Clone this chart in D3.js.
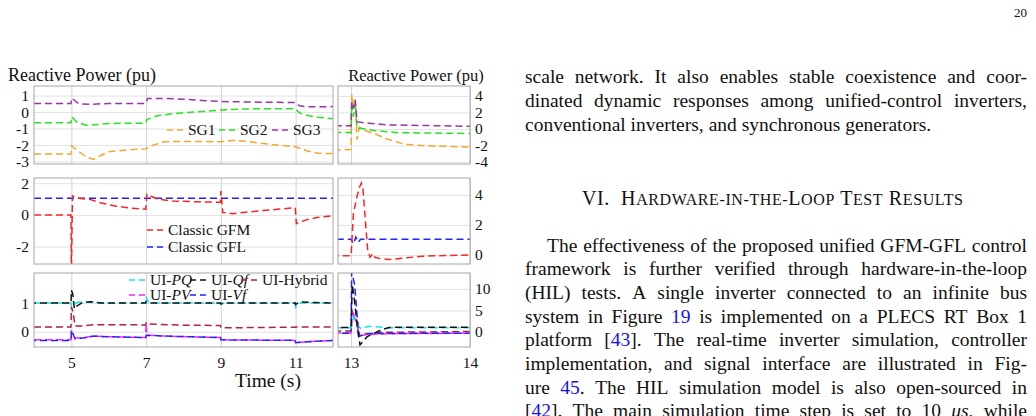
<!DOCTYPE html>
<html lang="en">
<head>
<meta charset="UTF-8">
<title>Reactive Power</title>
<script src="https://cdn.jsdelivr.net/npm/d3@7"></script>
<style>
  body { margin: 0; background: #fff; }
  svg { display: block; font-family: "Liberation Serif", "Times New Roman", serif; }
  .grid line { stroke: #e2e2e2; }
  .grid.v line { stroke: #d2d2d2; }
  .grid path { display: none; }
  .lbl path, .lbl line { display: none; }
  .lbl text { font-size: 15.5px; fill: #111; font-family: "Liberation Serif", serif; }
  .frame { fill: none; stroke: #a6a6a6; }
  .page { font-size: 19.5px; fill: #111; }
</style>
</head>
<body>
<svg width="1036" height="416"></svg>
<script>
// ---- data (time in s, reactive power in pu) ----
const sg1 = [[4,-2.55],[4.99,-2.55],[5.01,-2.05],[5.2,-2.4],[5.4,-2.72],[5.6,-2.87],[5.8,-2.62],[6,-2.4],[6.5,-2.3],[6.99,-2.22],[7.2,-2.0],[7.5,-1.8],[8,-1.78],[8.99,-1.8],[9.3,-1.72],[9.6,-1.75],[10,-1.88],[10.5,-2.0],[10.99,-2.1],[11.3,-2.35],[11.6,-2.5],[12,-2.52],
  [13,-2.5],[13.005,4.2],[13.02,2.6],[13.035,3.6],[13.05,-1.3],[13.07,0.2],[13.1,-0.1],[13.2,-0.6],[13.3,-1.2],[13.45,-1.85],[13.6,-2.0],[14,-2.2]];
const sg2 = [[4,-0.65],[4.99,-0.65],[5.01,-0.28],[5.15,-0.62],[5.4,-0.8],[5.7,-0.76],[6,-0.69],[6.99,-0.67],[7.02,-0.45],[7.3,-0.22],[7.7,-0.1],[8.5,0.04],[9,0.12],[9.5,0.18],[10,0.2],[10.99,0.2],[11.1,-0.05],[11.3,-0.2],[11.6,-0.32],[12,-0.4],
  [13,-0.43],[13.005,3.0],[13.02,1.5],[13.035,3.2],[13.05,0.1],[13.08,0.1],[13.2,-0.2],[13.4,-0.45],[14,-0.55]];
const sg3 = [[4,0.52],[4.99,0.52],[5.01,0.85],[5.2,0.5],[5.5,0.47],[6,0.52],[6.99,0.52],[7.04,0.82],[7.5,0.83],[8,0.78],[8.5,0.7],[9,0.64],[10,0.6],[10.99,0.58],[11.1,0.38],[11.3,0.32],[12,0.33],
  [13,0.38],[13.005,3.3],[13.02,2.5],[13.035,3.5],[13.05,0.9],[13.08,0.8],[13.15,0.7],[13.3,0.5],[14,0.32]];

const gfm = [[4,0],[4.99,0],[5.0,-3.6],[5.03,1.2],[5.2,1.05],[5.5,0.98],[5.8,0.75],[6.2,0.55],[6.6,0.42],[6.99,0.36],[7.02,1.3],[7.3,1.0],[7.7,0.88],[8.5,0.82],[8.99,0.8],[9.0,1.5],[9.05,0.15],[9.3,0.08],[9.6,0.15],[10,0.25],[10.5,0.35],[10.99,0.45],[11.02,-0.55],[11.3,-0.3],[11.6,-0.15],[12,-0.05],
  [13,-0.05],[13.02,2.8],[13.05,3.9],[13.07,4.5],[13.087,4.8],[13.1,4.4],[13.12,2.3],[13.14,0.3],[13.16,-0.15],[13.185,0.1],[13.2,-0.15],[13.25,-0.25],[13.32,-0.3],[13.45,-0.2],[13.6,-0.08],[14,0]];
const gfl = [[4,1.05],[13,1.05],[13.02,0.75],[13.04,1.2],[13.06,0.85],[13.08,1.05],[14,1.05]];

const uiPQ = [[4,1],[4.99,1],[5.0,0.9],[5.05,0.95],[5.15,1.02],[5.3,1.05],[5.6,1.02],[6,1.0],[6.99,1.0],[7.0,1.22],[7.05,1.05],[7.2,1.0],[8.99,1.0],[9.0,0.95],[9.05,1.0],[10.99,1.0],[11.0,0.85],[11.1,1.0],[12,1.0],
  [13,1.0],[13.02,3.5],[13.05,1.8],[13.08,0.8],[13.15,1.3],[13.3,1.0],[14,1.0]];
const uiQf = [[4,1],[4.99,1],[5.0,1.45],[5.04,1.3],[5.08,0.8],[5.15,0.9],[5.3,1.02],[5.5,1.05],[5.8,1.0],[6.99,1.0],[7.0,1.06],[7.1,1.0],[8.99,1.0],[9.0,0.97],[9.1,1.0],[10.99,1.0],[11.0,0.95],[11.1,1.04],[11.5,1.02],[12,1.0],
  [13,1.05],[13.01,11],[13.03,7],[13.06,-0.5],[13.075,-3],[13.135,-1.1],[13.25,0.45],[13.32,1.05],[13.5,1.1],[14,1.1]];
const uiHybrid = [[4,0.17],[4.99,0.17],[5.0,0.87],[5.05,0.65],[5.1,0.2],[5.3,0.2],[5.6,0.25],[6.99,0.24],[7.0,0.33],[7.1,0.27],[8,0.23],[8.99,0.22],[9.0,0.14],[9.2,0.14],[10,0.15],[10.99,0.16],[11.0,0.17],[12,0.17],
  [13,0.2],[13.01,4.7],[13.04,3.0],[13.07,-0.8],[13.12,-0.5],[13.25,-0.1],[14,0.1]];
const uiPV = [[4,-0.28],[4.99,-0.28],[5.0,0.05],[5.05,-0.2],[5.2,-0.22],[5.6,-0.15],[6,-0.17],[6.99,-0.2],[7.0,0.3],[7.02,-0.12],[7.5,-0.15],[8.99,-0.2],[9.0,-0.28],[10.99,-0.3],[11.0,-0.38],[11.5,-0.33],[12,-0.3],
  [13,-0.25],[13.01,5.0],[13.04,2.5],[13.07,-0.9],[13.15,-0.6],[13.3,-0.4],[14,-0.3]];
const uiVf = [[4,-0.3],[4.99,-0.3],[5.0,0.05],[5.04,-0.05],[5.1,-0.25],[5.3,-0.22],[5.6,-0.15],[6,-0.17],[6.99,-0.2],[7.0,-0.12],[7.5,-0.15],[8.99,-0.2],[9.0,-0.28],[10.99,-0.3],[11.0,-0.38],[11.5,-0.33],[12,-0.3],
  [13,-0.3],[13.005,14],[13.03,11],[13.05,4],[13.07,-1.0],[13.12,-0.4],[13.3,-0.35],[14,-0.3]];

const xTicksLeft = [5, 7, 9, 11];
const xTicksRight = [13, 14];
const yTicks1L = [1, 0, -1, -2, -3], yTicks1R = [4, 2, 0, -2, -4];
const yTicks2L = [2, 0, -2],        yTicks2R = [4, 2, 0];
const yTicks3L = [1, 0],            yTicks3R = [10, 5, 0];

// styles per series
const style = {
  sg1: {color: "#f5a62a", label: ["SG1"]},
  sg2: {color: "#22e622", label: ["SG2"]},
  sg3: {color: "#9933aa", label: ["SG3"]},
  gfm: {color: "#ff2222", label: ["Classic GFM"]},
  gfl: {color: "#2222ff", label: ["Classic GFL"]},
  uiPQ: {color: "#11e8e8", label: ["UI-", "PQ"], off: 0},
  uiQf: {color: "#111111", label: ["UI-", "Qf"], off: 5},
  uiHybrid: {color: "#b0223f", label: ["UI-Hybrid"]},
  uiPV: {color: "#ff22ff", label: ["UI-", "PV"], off: 0},
  uiVf: {color: "#2222ff", label: ["UI-", "Vf"], off: 5}
};
const seriesData = {sg1, sg2, sg3, gfm, gfl, uiPQ, uiQf, uiHybrid, uiPV, uiVf};

const svg = d3.select("svg");
const xLeft = d3.scaleLinear().domain([4, 12]).range([34, 333]);
const xRight = d3.scaleLinear().domain([12.89, 14]).range([338, 470]);

const panels = [
  {top: 86, bottom: 164, yl: [-3.15, 1.58], yr: [-4.24, 5.2], tl: yTicks1L, tr: yTicks1R,
   series: ["sg1", "sg2", "sg3"],
   legend: [{k: "sg1", x: 167, y: 130}, {k: "sg2", x: 219, y: 130}, {k: "sg3", x: 272, y: 130}]},
  {top: 178, bottom: 264, yl: [-3.1, 2.33], yr: [-0.6, 5.13], tl: yTicks2L, tr: yTicks2R,
   series: ["gfl", "gfm"],
   legend: [{k: "gfm", x: 147, y: 230}, {k: "gfl", x: 147, y: 247}]},
  {top: 273, bottom: 347, yl: [-0.53, 2.05], yr: [-3.5, 13.7], tl: yTicks3L, tr: yTicks3R,
   series: ["uiHybrid", "uiPV", "uiVf", "uiPQ", "uiQf"],
   legend: [{k: "uiPQ", x: 129, y: 280}, {k: "uiQf", x: 190, y: 280}, {k: "uiHybrid", x: 241, y: 280},
            {k: "uiPV", x: 129, y: 295}, {k: "uiVf", x: 190, y: 295}]}
];

panels.forEach((p, i) => {
  const yl = d3.scaleLinear().domain(p.yl).range([p.bottom, p.top]);
  const yr = d3.scaleLinear().domain(p.yr).range([p.bottom, p.top]);
  [[xLeft, yl, p.tl, xTicksLeft, "L"], [xRight, yr, p.tr, xTicksRight, "R"]].forEach(([x, y, ticks, xt, side]) => {
    const [x0, x1] = x.range();
    const id = "clip" + i + side;
    svg.append("clipPath").attr("id", id).append("rect")
      .attr("x", x0).attr("y", p.top).attr("width", x1 - x0).attr("height", p.bottom - p.top);

    svg.append("g").attr("class", "grid").attr("transform", `translate(${x0},0)`)
      .call(d3.axisLeft(y).tickValues(ticks).tickSize(-(x1 - x0)).tickFormat(""));
    svg.append("g").attr("class", "grid v").attr("transform", `translate(0,${p.bottom})`)
      .call(d3.axisBottom(x).tickValues(xt).tickSize(-(p.bottom - p.top)).tickFormat(""));

    const line = d3.line().x(d => x(d[0])).y(d => y(d[1]));
    const g = svg.append("g").attr("clip-path", `url(#${id})`);
    p.series.forEach(k => {
      g.append("path").attr("d", line(seriesData[k]))
        .attr("fill", "none").attr("stroke", style[k].color).attr("stroke-width", 1.5)
        .attr("stroke-dasharray", "7,4").attr("stroke-dashoffset", style[k].off || 0);
    });

    svg.append("rect").attr("class", "frame")
      .attr("x", x0).attr("y", p.top).attr("width", x1 - x0).attr("height", p.bottom - p.top);

    if (side === "L") {
      svg.append("g").attr("class", "lbl").attr("transform", `translate(${x0 - 1},0)`)
        .call(d3.axisLeft(y).tickValues(ticks).tickSize(0).tickPadding(4).tickFormat(d => String(d)));
    } else {
      svg.append("g").attr("class", "lbl").attr("transform", `translate(${x1 + 1},0)`)
        .call(d3.axisRight(y).tickValues(ticks).tickSize(0).tickPadding(4).tickFormat(d => String(d)));
    }
    if (i === panels.length - 1) {
      svg.append("g").attr("class", "lbl").attr("transform", `translate(0,${p.bottom})`)
        .call(d3.axisBottom(x).tickValues(xt).tickSize(0).tickPadding(10).tickFormat(d => String(d)));
    }
  });

  // legend
  p.legend.forEach(it => {
    const s = style[it.k];
    svg.append("line").attr("x1", it.x).attr("x2", it.x + 16).attr("y1", it.y).attr("y2", it.y)
      .attr("stroke", s.color).attr("stroke-width", 1.5).attr("stroke-dasharray", "6,4");
    const t = svg.append("text").attr("x", it.x + 21).attr("y", it.y + 5)
      .style("font-size", "15.5px").attr("fill", "#111");
    s.label.forEach((part, j) => t.append("tspan").text(part).style("font-style", j === 1 ? "italic" : null));
  });
});

// titles
svg.append("text").attr("x", 8).attr("y", 81).style("font-size", "18px").attr("fill", "#111").text("Reactive Power (pu)");
svg.append("text").attr("x", 416).attr("y", 81).attr("text-anchor", "middle").style("font-size", "16.5px").attr("fill", "#111").text("Reactive Power (pu)");
svg.append("text").attr("x", 268).attr("y", 387).attr("text-anchor", "middle").style("font-size", "19.5px").attr("fill", "#111").text("Time (s)");

// ---- page text column ----
const para1 = [
  "scale network. It also enables stable coexistence and coor-",
  "dinated dynamic responses among unified-control inverters,",
  "conventional inverters, and synchronous generators."
];
const para2 = [
  "The effectiveness of the proposed unified GFM-GFL control",
  "framework is further verified through hardware-in-the-loop",
  "(HIL) tests. A single inverter connected to an infinite bus",
  "system in Figure {19} is implemented on a PLECS RT Box 1",
  "platform [{43}]. The real-time inverter simulation, controller",
  "implementation, and signal interface are illustrated in Fig-",
  "ure {45}. The HIL simulation model is also open-sourced in",
  "[{42}]. The main simulation time step is set to 10 _μs_, while"
];
const heading = "VI.\u00a0 Hardware-in-the-Loop Test Results";

const page = svg.append("g").attr("class", "page");

function wordNode(w, y) {
  const t = page.append("text").attr("y", y);
  w.split(/(\{[^}]*\}|_[^_]*_)/).filter(s => s).forEach(s => {
    const ts = t.append("tspan");
    if (s[0] === "{") ts.text(s.slice(1, -1)).attr("fill", "#1010f0");
    else if (s[0] === "_") ts.text(s.slice(1, -1)).style("font-style", "italic");
    else ts.text(s);
  });
  return t;
}

function setLine(str, x0, x1, y, justify) {
  const words = str.split(" ");
  const nodes = words.map(w => wordNode(w, y));
  const widths = nodes.map(n => n.node().getComputedTextLength());
  const gap = justify ? (x1 - x0 - d3.sum(widths)) / (words.length - 1) : 4.9;
  let x = x0;
  nodes.forEach((n, i) => { n.attr("x", x); x += widths[i] + gap; });
}

para1.forEach((l, i) => setLine(l, 525, 1027, 83 + i * 23.8, i < para1.length - 1));
para2.forEach((l, i) => setLine(l, i === 0 ? 547 : 525, 1027, 251.7 + i * 23.65, true));

const h = page.append("text").attr("x", 582).attr("y", 205)
  .attr("textLength", 381).attr("lengthAdjust", "spacing");
heading.match(/[a-z-]+|[^a-z-]+/g).forEach(run => {
  const small = /[a-z]/.test(run);
  h.append("tspan").text(small ? run.toUpperCase() : run).style("font-size", small ? "16px" : "20px");
});

page.append("text").attr("x", 1027).attr("y", 17).attr("text-anchor", "end").style("font-size", "13px").text("20");
</script>
</body>
</html>
